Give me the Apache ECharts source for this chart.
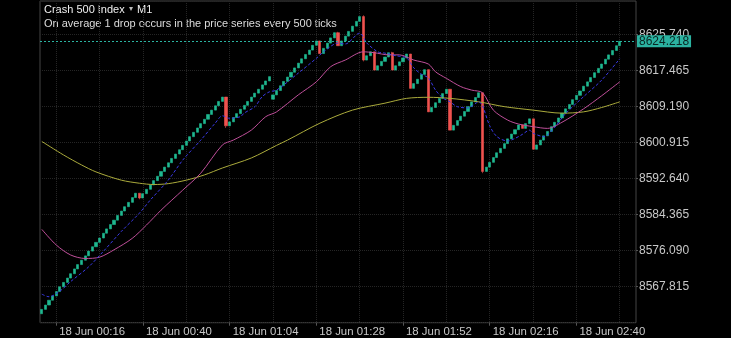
<!DOCTYPE html>
<html><head><meta charset="utf-8">
<script src="https://cdn.jsdelivr.net/npm/echarts@6/dist/echarts.min.js"></script>
<style>html,body{margin:0;padding:0;background:#000;}#c{width:731px;height:338px;}</style>
</head><body><div id="c"></div>
<script>
// ---- data ----
const dayLabel = '18 Jun';
const firstMinute = 12;      // first slot 00:12
const slotCount = 165;       // visible slots (M1)
const firstOpen = 8561.6;
const closes = [
 8562.6, 8563.6, 8564.7, 8565.7, 8566.7, 8567.8, 8568.8, 8569.8, 8570.8, 8571.9,
 8572.9, 8573.9, 8574.9, 8576.0, 8577.0, 8578.0, 8579.0, 8580.1, 8581.1, 8582.1,
 8583.1, 8584.2, 8585.2, 8586.2, 8587.2, 8588.3, 8589.3,
 8588.2,
 8589.2, 8590.2, 8591.2, 8592.2, 8593.2, 8594.3, 8595.3, 8596.3, 8597.3, 8598.3,
 8599.3, 8600.3, 8601.3, 8602.3, 8603.3, 8604.3, 8605.3, 8606.3, 8607.4, 8608.4,
 8609.4, 8610.4, 8611.4,
 8604.8,
 8605.7, 8606.7, 8607.6, 8608.6, 8609.5, 8610.4, 8611.4, 8612.3, 8613.2, 8614.2, 8615.1, 8616.1,
 8611.9, 8612.9, 8614.0, 8615.0, 8616.0, 8617.1, 8618.1, 8619.2, 8620.2, 8621.2, 8622.2, 8623.3, 8624.3,
 8621.4,
 8622.6, 8623.8, 8625.0, 8626.2,
 8623.2,
 8624.3, 8625.4, 8626.5, 8627.7, 8628.8, 8629.9,
 8619.9,
 8620.9, 8621.8,
 8617.6,
 8618.6, 8619.6, 8620.6, 8621.6,
 8617.6,
 8618.6, 8619.5, 8620.4, 8621.3,
 8613.4,
 8614.5, 8615.5, 8616.6, 8617.7,
 8608.0,
 8609.0, 8610.1, 8611.1, 8612.2, 8613.2,
 8603.8,
 8604.9, 8606.0, 8607.0, 8608.1, 8609.2, 8610.3, 8611.3, 8612.4,
 8594.3,
 8595.3, 8596.4, 8597.5, 8598.6, 8599.6, 8600.7, 8601.8, 8602.9, 8603.9, 8605.0,
 8604.2,
 8605.3, 8606.4,
 8599.4,
 8600.4, 8601.5, 8602.5, 8603.5, 8604.6, 8605.6, 8606.6, 8607.7, 8608.7, 8609.7,
 8610.8, 8611.8, 8612.8, 8613.9, 8614.9, 8615.9, 8617.0, 8618.0, 8619.0, 8620.1,
 8621.1, 8622.1, 8623.2, 8624.218
];
const gapOpens = {64: 8610.9};
const wickHighs = {82: 8626.4, 89: 8630.2, 97: 8621.8};
const wickLows = {27: 8587.9, 51: 8604.3, 89: 8619.6, 122: 8593.9};
const lastPrice = 8624.218;

// moving averages, [slot index, value]
const maFast = [[0,8566.1],[2,8565.5],[5,8566.8],[8,8569.0],[13,8572.4],[17,8575.9],[22,8580.5],[27,8584.7],[30,8587.7],[35,8592.3],[39,8596.9],[44,8601.5],[48,8605.4],[50,8607.1],[52,8606.5],[55,8606.9],[56,8607.7],[59,8609.2],[61,8611.5],[63,8612.6],[65,8613.0],[71,8616.9],[76,8620.3],[78,8621.8],[82,8623.8],[84,8623.6],[88,8626.1],[90,8623.8],[93,8621.8],[95,8621.5],[98,8620.9],[101,8620.4],[103,8618.1],[105,8616.7],[107,8615.8],[109,8613.0],[111,8611.2],[113,8610.3],[115,8609.2],[118,8608.9],[121,8610.3],[122,8609.4],[124,8604.8],[126,8602.3],[129,8601.3],[131,8601.9],[133,8602.8],[135,8603.8],[136,8603.1],[139,8602.3],[142,8604.5],[145,8607.6],[150,8611.5],[155,8615.3],[160,8620.2]];
const maMid = [[0,8581.0],[4,8577.4],[8,8575.1],[12,8574.3],[16,8574.6],[20,8576.3],[25,8578.9],[29,8582.0],[33,8585.4],[39,8590.0],[44,8593.9],[50,8600.4],[53,8601.5],[58,8603.8],[62,8606.9],[65,8608.0],[71,8611.9],[76,8614.9],[80,8618.4],[84,8619.9],[89,8621.8],[92,8621.6],[96,8621.1],[99,8621.1],[103,8619.9],[107,8619.0],[109,8617.2],[112,8615.7],[116,8613.8],[119,8613.0],[122,8612.4],[125,8608.4],[129,8606.1],[132,8605.2],[136,8604.6],[140,8604.2],[144,8605.6],[150,8608.7],[155,8611.7],[160,8614.9]];
const maSlow = [[0,8601.2],[6,8598.1],[11,8595.8],[15,8594.2],[22,8592.3],[27,8591.6],[31,8591.3],[35,8591.5],[40,8592.3],[45,8593.5],[50,8595.1],[58,8597.4],[65,8600.3],[68,8601.5],[77,8605.4],[86,8608.4],[95,8610.0],[101,8611.1],[107,8611.35],[113,8611.1],[121,8610.3],[128,8609.2],[136,8608.4],[144,8607.7],[150,8608.0],[155,8609.0],[160,8610.3]];

// y axis ticks
const yMin = 8559.540, yMax = 8633.48, yStep = 8.275;

// ---- build ----
const cats = [];
for (let k = 0; k < slotCount; k++) {
  const m = firstMinute + k;
  cats.push(String(Math.floor(m / 60)).padStart(2, '0') + ':' + String(m % 60).padStart(2, '0'));
}
const ohlc = closes.map((c, i) => {
  const o = i === 0 ? firstOpen : (gapOpens[i] !== undefined ? gapOpens[i] : closes[i - 1]);
  const lo = wickLows[i] !== undefined ? wickLows[i] : Math.min(o, c);
  const hi = wickHighs[i] !== undefined ? wickHighs[i] : Math.max(o, c);
  return [o, c, lo, hi];
});

const UP = '#1fb890', DOWN = '#f0524f', TEAL = '#2bb3a1';
const chart = echarts.init(document.getElementById('c'), null, {renderer: 'canvas'});
const showIdx = (i) => i % 24 === 4;
chart.setOption({
  backgroundColor: '#000',
  animation: false,
  grid: {left: 40, right: 95, top: 1, bottom: 15.3, show: true, borderColor: '#444', borderWidth: 1, backgroundColor: 'transparent'},
  xAxis: {
    type: 'category', data: cats, boundaryGap: true,
    axisLine: {show: false},
    axisTick: {show: true, alignWithLabel: true, interval: (i) => showIdx(i), length: 3, lineStyle: {color: '#555'}},
    axisLabel: {interval: (i) => showIdx(i), formatter: (v) => dayLabel + ' ' + v, color: '#c8c8c8', fontSize: 11.4,
      fontFamily: '"Liberation Sans", Arial, sans-serif', align: 'left', margin: 4, padding: [0, 0, 0, 3]},
    splitLine: {show: true, alignWithLabel: true, interval: (i) => i % 12 === 4, lineStyle: {color: '#252525', type: 'dotted', width: 1}}
  },
  yAxis: {
    type: 'value', position: 'right', min: yMin, max: yMax, interval: yStep, scale: true,
    axisLine: {show: false},
    axisTick: {show: true, length: 2, lineStyle: {color: '#555'}},
    axisLabel: {color: '#c8c8c8', fontSize: 12, fontFamily: '"Liberation Sans", Arial, sans-serif', margin: 3,
      showMinLabel: false, showMaxLabel: false, formatter: (v) => v.toFixed(3)},
    splitLine: {show: true, lineStyle: {color: '#252525', type: 'dotted', width: 1}}
  },
  series: [
    {
      type: 'candlestick', data: ohlc, barWidth: 2.6, z: 2,
      itemStyle: {color: UP, color0: DOWN, borderColor: UP, borderColor0: DOWN, borderWidth: 0.6},
      markLine: {
        silent: true, symbol: 'none', animation: false,
        lineStyle: {color: TEAL, type: [2, 2], width: 1},
        label: {show: true, position: 'end', distance: 1, formatter: () => lastPrice.toFixed(3),
          backgroundColor: TEAL, color: '#0a2622', fontSize: 12, fontFamily: '"Liberation Sans", Arial, sans-serif',
          padding: [0, 2, 0, 2], lineHeight: 12},
        data: [{yAxis: lastPrice}]
      }
    },
    {type: 'line', data: maSlow, smooth: 0.3, symbol: 'none', z: 3, lineStyle: {color: '#abab3c', width: 1}},
    {type: 'line', data: maMid, smooth: 0.3, symbol: 'none', z: 3, lineStyle: {color: '#bf4f9a', width: 1}},
    {type: 'line', data: maFast, smooth: 0.3, symbol: 'none', z: 4, lineStyle: {color: '#3a3ae6', width: 1, type: [3, 2]}}
  ],
  graphic: [
    {type: 'text', left: 44, top: 4, style: {text: 'Crash 500 Index', fill: '#f0f0f0', font: '11px "Liberation Sans", Arial, sans-serif'}},
    {type: 'text', left: 129, top: 5, style: {text: '▾', fill: '#bbbbbb', font: '8px "DejaVu Sans", sans-serif'}},
    {type: 'text', left: 137, top: 4, style: {text: 'M1', fill: '#f0f0f0', font: '11px "Liberation Sans", Arial, sans-serif'}},
    {type: 'text', left: 44, top: 18, style: {text: 'On average 1 drop occurs in the price series every 500 ticks', fill: '#dcdcdc', font: '11px "Liberation Sans", Arial, sans-serif'}}
  ]
});
</script></body></html>
